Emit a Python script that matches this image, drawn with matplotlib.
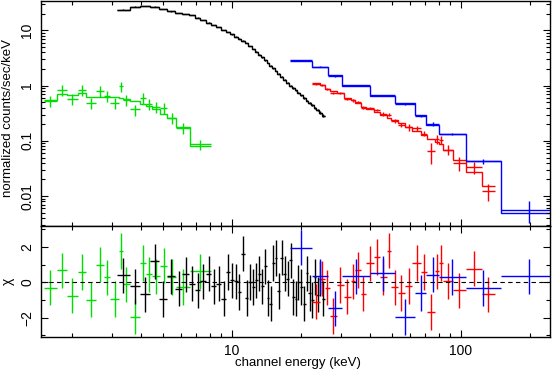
import numpy as np
import matplotlib
matplotlib.use("Agg")
import matplotlib.pyplot as plt
from matplotlib.ticker import FixedLocator, FixedFormatter, NullFormatter, LogLocator, MultipleLocator

plt.rcParams['font.family'] = ['Liberation Sans', 'DejaVu Sans']

# ---------------- data ----------------
green_edges = [1.52, 1.72, 1.91, 2.13, 2.30, 2.56, 2.78, 2.95, 3.23, 3.34, 3.60,
               3.99, 4.22, 4.49, 4.88, 5.22, 5.73, 6.54, 8.12]
green_rate = [0.537, 0.847, 0.583, 0.847, 0.488, 0.813, 0.652, 0.488, 0.970, 0.544,
              0.370, 0.600, 0.468, 0.413, 0.396, 0.261, 0.173, 0.0865]
green_err = [0.12, 0.19, 0.13, 0.19, 0.11, 0.18, 0.14, 0.11, 0.21, 0.12,
             0.085, 0.13, 0.10, 0.09, 0.09, 0.06, 0.04, 0.019]
green_model = [0.560, 0.718, 0.669, 0.738, 0.625, 0.625, 0.625, 0.625, 0.600, 0.575,
               0.537, 0.468, 0.436, 0.375, 0.309, 0.257, 0.177, 0.0796]
green_chi = [-0.30, 0.68, -0.75, 0.58, -0.98, 1.00, 0.28, -0.94, 1.77, -0.11,
             -1.94, 1.09, 0.45, 0.34, 0.94, 0.30, -0.27, 0.62]

black_edges = [3.16, 3.59, 3.99, 4.41, 4.82, 5.22, 5.64, 6.09, 6.51, 6.89, 7.30, 7.75,
               8.15, 8.57, 9.02, 9.42, 9.80, 10.2, 10.6, 11.0, 11.4, 11.8, 12.2, 12.6,
               13.0, 13.4, 13.8, 14.2, 14.6, 15.0, 15.4, 15.8, 16.3, 16.8, 17.3, 17.8,
               18.3, 18.8, 19.3, 19.8, 20.4, 21.0, 21.6, 22.2, 22.8, 23.4, 24.0, 24.7, 25.4]
black_flux = [23.7, 26.9, 27.6, 26.9, 24.4, 22.1, 20.7, 19.8, 18.8, 17.0, 15.5, 13.8,
              12.4, 11.4, 10.2, 9.27, 8.43, 7.73, 7.11, 6.55, 5.89, 5.21, 4.61, 4.12,
              3.65, 3.23, 2.87, 2.56, 2.29, 2.04, 1.84, 1.63, 1.44, 1.27, 1.13, 1.00,
              0.903, 0.817, 0.741, 0.668, 0.597, 0.537, 0.485, 0.441, 0.400, 0.365, 0.325, 0.285]
black_err = [0.25, 0.27, 0.28, 0.27, 0.25, 0.22, 0.21, 0.20, 0.19, 0.17, 0.16, 0.14,
             0.13, 0.12, 0.11, 0.10, 0.09, 0.085, 0.08, 0.075, 0.07, 0.065, 0.06, 0.055,
             0.05, 0.047, 0.043, 0.04, 0.037, 0.034, 0.032, 0.03, 0.028, 0.026, 0.024, 0.023,
             0.022, 0.021, 0.02, 0.019, 0.018, 0.017, 0.016, 0.016, 0.016, 0.016, 0.017, 0.018]
black_chi = [0.40, -0.23, -0.68, 1.19, -0.94, 0.34, -0.36, 0.45, -0.08, -0.45, 0.06, 0.49,
             -0.23, -0.08, -0.93, 0.58, 0.11, 0.06, -0.55, 1.62, -0.89, 0.02, -0.27, 0.11,
             0.49, -0.23, 0.90, -0.89, -1.21, 1.09, 1.37, -0.50, 1.39, 0.49, 0.20, 1.24,
             -0.83, -0.93, 0.00, -0.27, -1.20, 0.50, -0.60, -1.00, 0.30, -0.70, 0.20, -0.93]

red_edges = [22.3, 24.2, 25.5, 26.8, 28.7, 30.8, 33.0, 34.4, 36.5, 38.5, 41.7, 44.3, 47.4,
             49.8, 53.2, 56.9, 61.5, 67.3, 71.2, 77.0, 80.4, 83.7, 92.5, 105.1, 123.1, 140.7]
red_model = [1.12, 1.01, 0.883, 0.789, 0.738, 0.600, 0.544, 0.488, 0.413, 0.370, 0.331,
             0.300, 0.261, 0.237, 0.207, 0.180, 0.150, 0.126, 0.110, 0.0951, 0.0865,
             0.0683, 0.0445, 0.0274, 0.0150]
red_rate = [1.07, 1.018, 0.873, 0.728, 0.733, 0.581, 0.546, 0.508, 0.397, 0.394, 0.360,
            0.307, 0.298, 0.232, 0.197, 0.176, 0.170, 0.135, 0.065, 0.107, 0.105,
            0.0694, 0.0395, 0.0337, 0.0123]
red_err = [0.045, 0.040, 0.035, 0.032, 0.030, 0.024, 0.033, 0.029, 0.025, 0.022, 0.020,
           0.024, 0.021, 0.019, 0.017, 0.022, 0.018, 0.015, 0.027, 0.019, 0.017,
           0.015, 0.011, 0.0082, 0.0040]
red_chi = [-1.10, 0.20, -0.30, -1.90, -0.15, -0.81, 0.06, 0.69, -0.64, 1.07, 1.43, 0.30,
           1.78, -0.28, -0.60, -0.20, 1.09, 0.58, -1.68, 0.62, 1.09, 0.07, -0.45, 0.77, -0.68]

blue_edges = [17.9, 22.3, 26.2, 30.3, 40.3, 51.5, 63.0, 70.8, 80.4, 105.1, 149.5, 262.0]
blue_model = [2.79, 2.17, 1.53, 1.00, 0.660, 0.490, 0.292, 0.196, 0.131, 0.0440, 0.0049]
blue_rate = [2.89, 2.19, 1.47, 1.008, 0.670, 0.460, 0.283, 0.202, 0.1335, 0.0427, 0.0057]
blue_err = [0.05, 0.05, 0.04, 0.025, 0.02, 0.016, 0.015, 0.013, 0.008, 0.004, 0.0024]
blue_chi = [1.95, 0.33, -1.48, 0.33, 0.50, -1.97, -0.60, 0.44, 0.31, -0.33, 0.34]

x_ticks = [10, 100]
x_ticklabels = ["10", "100"]
top_yticks = [0.01, 0.1, 1, 10]
top_yticklabels = ["0.01", "0.1", "1", "10"]
bot_yticks = [-2, 0, 2]
bot_yticklabels = ["\u22122", "0", "2"]

# ---------------- figure ----------------
W, H = 553, 370
fig = plt.figure(figsize=(W / 100, H / 100), dpi=100)
left = 41 / W
width = (550 - 41) / W
ax1 = fig.add_axes([left, 1 - 226 / H, width, (226 - 0.7) / H])
ax2 = fig.add_axes([left, 1 - 337 / H, width, (337 - 226) / H], sharex=ax1)

series = [
    (green_edges, green_rate, green_err, green_model, green_chi, '#00e000'),
    (black_edges, black_flux, black_err, black_flux, black_chi, '#000000'),
    (red_edges, red_rate, red_err, red_model, red_chi, '#ff0000'),
    (blue_edges, blue_rate, blue_err, blue_model, blue_chi, '#0000ff'),
]

lw = 1.0
for edges, rate, err, model, chi, col in series:
    e = np.asarray(edges)
    lo, hi = e[:-1], e[1:]
    xc = np.sqrt(lo * hi)
    xerr = [xc - lo, hi - xc]
    ax1.errorbar(xc, rate, xerr=xerr, yerr=err, fmt='none', ecolor=col,
                 elinewidth=lw, capsize=0)
    ax1.stairs(model, e, baseline=None, color=col, lw=lw)
    ax2.errorbar(xc, chi, xerr=xerr, yerr=np.ones(len(chi)), fmt='none',
                 ecolor=col, elinewidth=lw, capsize=0)

ax2.axhline(0, color='black', lw=0.8, ls=(0, (4, 3)))

for ax in (ax1, ax2):
    ax.set_xscale('log')
    ax.set_xlim(1.47, 245)
    ax.tick_params(which='both', direction='in', top=True, right=True,
                   labelsize=10, width=0.8, color='black')
    ax.tick_params(which='major', length=5)
    ax.tick_params(which='minor', length=2.8)
    for s in ax.spines.values():
        s.set_linewidth(1.0)
        s.set_color('black')
    ax.xaxis.set_major_locator(FixedLocator(x_ticks))
    ax.xaxis.set_minor_locator(LogLocator(base=10, subs=np.arange(2, 10)))
    ax.xaxis.set_minor_formatter(NullFormatter())

ax1.set_yscale('log')
ax1.set_ylim(0.00288, 34.4)
ax1.yaxis.set_major_locator(FixedLocator(top_yticks))
ax1.yaxis.set_major_formatter(FixedFormatter(top_yticklabels))
ax1.yaxis.set_minor_locator(LogLocator(base=10, subs=np.arange(2, 10)))
ax1.yaxis.set_minor_formatter(NullFormatter())
ax1.tick_params(axis='x', labelbottom=False)

ax2.set_ylim(-3.09, 3.18)
ax2.yaxis.set_major_locator(FixedLocator(bot_yticks))
ax2.yaxis.set_major_formatter(FixedFormatter(bot_yticklabels))
ax2.yaxis.set_minor_locator(MultipleLocator(1))
ax2.xaxis.set_major_formatter(FixedFormatter(x_ticklabels))
ax2.tick_params(axis='x', pad=5)

for ax in (ax1, ax2):
    ax.tick_params(axis='y', pad=5)
    for lbl in ax.get_yticklabels():
        lbl.set_rotation(90)
        lbl.set_va('center')

ax1.set_ylabel("normalized counts/sec/keV", fontsize=9.5, va='center')
ax1.yaxis.set_label_coords(-0.065, 0.48)
ax2.set_ylabel("\u03c7", fontsize=10, va='center')
ax2.yaxis.set_label_coords(-0.065, 0.5)
ax2.set_xlabel("channel energy (keV)", fontsize=9.5, va='center')
ax2.xaxis.set_label_coords(0.505, -0.234)

fig.savefig("out.png", dpi=100)
